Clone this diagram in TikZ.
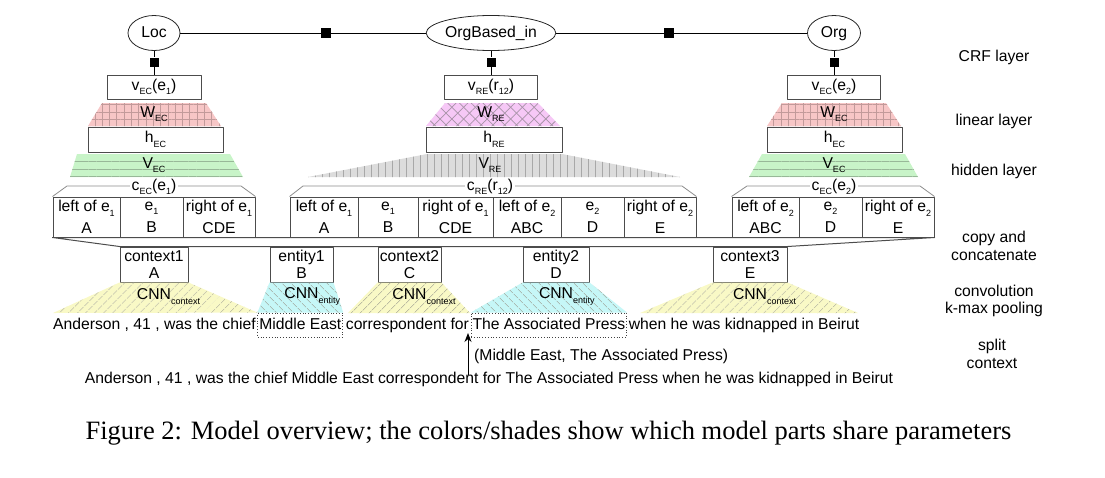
\documentclass[tikz,border=0pt]{standalone}
\usepackage{fontspec}
\setmainfont{Liberation Sans}
\newfontfamily\capfont{Liberation Serif}
\usetikzlibrary{patterns.meta,shapes.geometric,arrows.meta,positioning}
\definecolor{ecred}{HTML}{F7C6C6}
\definecolor{ecredline}{HTML}{C29A9A}
\definecolor{ecgreen}{HTML}{C8F4C8}
\definecolor{ecgreenline}{HTML}{98B898}
\definecolor{repink}{HTML}{F6C8F6}
\definecolor{repinkline}{HTML}{A894A8}
\definecolor{regrey}{HTML}{DCDCDC}
\definecolor{regreyline}{HTML}{A8A8A8}
\definecolor{ctxyellow}{HTML}{F9F9C6}
\definecolor{entcyan}{HTML}{C6F7F7}
\definecolor{hatchline}{HTML}{9C9C90}
\newcommand{\sbs}[1]{\raisebox{-4.5pt}{\fontsize{9}{9}\selectfont #1}}
\begin{document}
\begin{tikzpicture}[x=1pt,y=-1pt,line join=round,
  font=\fontsize{15.7}{17}\selectfont,
  box/.style={draw=black!70,line width=1pt,inner sep=0pt,minimum height=24pt},
  cell/.style={box,minimum height=40pt,align=center,font=\fontsize{15.7}{22}\selectfont},
  ctxbox/.style={box,minimum height=35pt,align=center,font=\fontsize{15.7}{17.5}\selectfont},
  lab/.style={inner sep=0pt},
  word/.style={inner sep=0pt,text height=11.5pt,text depth=3.5pt},
  ent/.style={word,draw=black!75,dotted,line width=0.8pt,inner xsep=1.5pt,inner ysep=4.5pt},
  tag/.style={fill=white,inner sep=1.5pt},
  var/.style={draw=black!85,ellipse,line width=0.8pt,minimum height=35pt,inner sep=0pt,
    text height=11.5pt,text depth=3.5pt},
  fac/.style={fill=black,inner sep=0pt,minimum size=10pt},
  brace/.style={draw=black!45,line width=0.8pt},
  wec/.style={fill=ecred,
    postaction={pattern={Lines[angle=0,distance=7.3pt,line width=0.8pt]},pattern color=ecredline},
    postaction={pattern={Lines[angle=90,distance=7.3pt,line width=0.8pt]},pattern color=ecredline}},
  vec/.style={fill=ecgreen,
    postaction={pattern={Lines[angle=0,distance=7.7pt,line width=0.8pt]},pattern color=ecgreenline}},
  wre/.style={fill=repink,
    postaction={pattern={Lines[angle=45,distance=8.3pt,line width=0.8pt]},pattern color=repinkline},
    postaction={pattern={Lines[angle=-45,distance=8.3pt,line width=0.8pt]},pattern color=repinkline}},
  vre/.style={fill=regrey,
    postaction={pattern={Lines[angle=90,distance=7pt,line width=0.8pt]},pattern color=regreyline}},
  ctxcnn/.style={fill=ctxyellow,
    postaction={pattern={Lines[angle=45,distance=6.5pt,line width=0.7pt]},pattern color=hatchline}},
  entcnn/.style={fill=entcyan,
    postaction={pattern={Lines[angle=-45,distance=6.5pt,line width=0.7pt]},pattern color=hatchline}}
  ]
  \useasboundingbox (0,0) rectangle (1105,477);
  % CRF layer
  \node[var,minimum width=52pt] (loc) at (154,33) {Loc};
  \node[var,minimum width=120pt] (rel) at (491,33) {OrgBased\_in};
  \node[var,minimum width=53pt] (org) at (834,33) {Org};
  \node[fac] (f12) at (326,33) {};
  \node[fac] (f23) at (669,33) {};
  \draw[line width=0.8pt] (loc) -- (f12) -- (rel) -- (f23) -- (org);
  % output vectors
  \node[box,minimum width=94pt] (v1) at (154,87) {v\sbs{EC}(e\sbs{1})};
  \node[box,minimum width=93pt] (v12) at (491,87) {v\sbs{RE}(r\sbs{12})};
  \node[box,minimum width=93pt] (v2) at (834,87) {v\sbs{EC}(e\sbs{2})};
  \foreach \n in {1,12,2}{
    \node[fac,minimum size=9pt] (u\n) at (v\n.north |- 0,62) {};
  }
  \draw[line width=0.8pt] (loc) -- (u1) -- (v1) (rel) -- (u12) -- (v12) (org) -- (u2) -- (v2);
  % linear layer
  \path[wec] (102,103) -- (206,103) -- (221,126) -- (88,126) -- cycle;
  \path[wre] (445,103) -- (538,103) -- (560,126) -- (426,126) -- cycle;
  \path[wec] (782,103) -- (886,103) -- (901,126) -- (767,126) -- cycle;
  \node[lab] (w1) at (154,114) {W\sbs{EC}};
  \node[lab] (w12) at (491,114) {W\sbs{RE}};
  \node[lab] (w2) at (834,114) {W\sbs{EC}};
  % hidden layer
  \node[box,minimum width=135pt,minimum height=25pt] (h1) at (155.5,139.5) {h\sbs{EC}};
  \node[box,minimum width=136pt,minimum height=25pt] (h12) at (494,139.5) {h\sbs{RE}};
  \node[box,minimum width=135pt,minimum height=25pt] (h2) at (834.5,139.5) {h\sbs{EC}};
  \path[vec] (77,154) -- (230,154) -- (243,177) -- (70,177) -- cycle;
  \path[vre] (427,154) -- (562,154) -- (680,177) -- (308,177) -- cycle;
  \path[vec] (762,154) -- (905,154) -- (918,177) -- (749,177) -- cycle;
  \node[lab] (hv1) at (154,165) {V\sbs{EC}};
  \node[lab] (hv12) at (490,165) {V\sbs{RE}};
  \node[lab] (hv2) at (834,165) {V\sbs{EC}};
  % concatenated inputs
  \foreach \a/\b/\uptext/\lowtext/\n in {53/120/left of e\sbs{1}/A/1, 120/183/e\sbs{1}/B/2,
      183/255/right of e\sbs{1}/CDE/3, 290/358/left of e\sbs{1}/A/4, 358/418/e\sbs{1}/B/5,
      418/493/right of e\sbs{1}/CDE/6, 493/561/left of e\sbs{2}/ABC/7, 561/624/e\sbs{2}/D/8,
      624/696/right of e\sbs{2}/E/9, 732/799/left of e\sbs{2}/ABC/10, 799/862/e\sbs{2}/D/11,
      862/934/right of e\sbs{2}/E/12}
    \node[cell,minimum width=\b-\a] (c\n) at ({(\a+\b)/2},217) {\uptext\\\lowtext};
  \draw[brace] (c1.north west) -- (67,186) -- (241,186) -- (c3.north east);
  \draw[brace] (c4.north west) -- (303,186) -- (682,186) -- (c9.north east);
  \draw[brace] (c10.north west) -- (747,186) -- (920,186) -- (c12.north east);
  \node[tag] (ce1) at (154,187) {c\sbs{EC}(e\sbs{1})};
  \node[tag] (ce12) at (490,187) {c\sbs{RE}(r\sbs{12})};
  \node[tag] (ce2) at (834,187) {c\sbs{EC}(e\sbs{2})};
  % split parts
  \node[ctxbox,minimum width=68pt] (x1) at (154,264.5) {context1\\A};
  \node[ctxbox,minimum width=63pt] (n1) at (301.5,264.5) {entity1\\B};
  \node[ctxbox,minimum width=63pt] (x2) at (409.5,264.5) {context2\\C};
  \node[ctxbox,minimum width=66pt] (n2) at (556,264.5) {entity2\\D};
  \node[ctxbox,minimum width=74pt] (x3) at (750,264.5) {context3\\E};
  \draw[black!70,line width=1pt] (c1.south west) -- (x1.north west) -- (x3.north east)
    -- (c12.south east) -- cycle;
  % sentence
  \node[word,anchor=west] (s1) at (53,325) {Anderson , 41 , was the chief};
  \node[ent,right=1.5pt of s1] (me) {Middle East};
  \node[word,right=2.5pt of me] (s2) {correspondent for};
  \node[ent,right=1.5pt of s2] (tap) {The Associated Press};
  \node[word,right=1.5pt of tap] (s3) {when he was kidnapped in Beirut};
  % convolution
  \path[ctxcnn] (x1.south west) -- (x1.south east) -- (me.north west) -- (53,313) -- cycle;
  \path[entcnn] (n1.south west) -- (n1.south east) -- (me.north east) -- (me.north west) -- cycle;
  \path[ctxcnn] (x2.south west) -- (x2.south east) -- (470,313) -- (348,313) -- cycle;
  \path[entcnn] (n2.south west) -- (n2.south east) -- (tap.north east) -- (tap.north west) -- cycle;
  \path[ctxcnn] (x3.south west) -- (x3.south east) -- (858,313) -- (640,313) -- cycle;
  \foreach \n in {x1,x2,x3}
    \node[lab] at ([yshift=-14pt]\n.south) {CNN\rlap{\sbs{context}}};
  \foreach \n in {n1,n2}
    \node[lab] at ([yshift=-14pt]\n.south) {CNN\rlap{\sbs{entity}}};
  % input
  \node[lab] (full) at (489,379) {Anderson , 41 , was the chief Middle East correspondent for The Associated Press when he was kidnapped in Beirut};
  \coordinate (src) at (468,375);
  \coordinate (tip) at (468,333);
  \draw[-{Stealth[length=9pt,width=7pt]},line width=1pt] (src) -- (tip);
  \node[lab,anchor=west] (pair) at (474,356) {(Middle East, The Associated Press)};
  % layer names
  \node[lab] (crf) at (994,57) {CRF layer};
  \node[lab] (lin) at (994,121) {linear layer};
  \node[lab] (hid) at (994,171) {hidden layer};
  \node[lab,align=center,font=\fontsize{15.7}{17.5}\selectfont] (cat) at (994,246) {copy and\\concatenate};
  \node[lab,align=center,font=\fontsize{15.7}{17.5}\selectfont] (conv) at (994,301) {convolution\\k-max pooling};
  \node[lab,align=center,font=\fontsize{15.7}{17.5}\selectfont] (spl) at (992,354) {split\\context};
  % caption
  \node[lab,font=\capfont\fontsize{26.5}{30}\selectfont] (cap) at (548.5,433) {Figure 2: Model overview; the colors/shades show which model parts share parameters};
\end{tikzpicture}
\end{document}
